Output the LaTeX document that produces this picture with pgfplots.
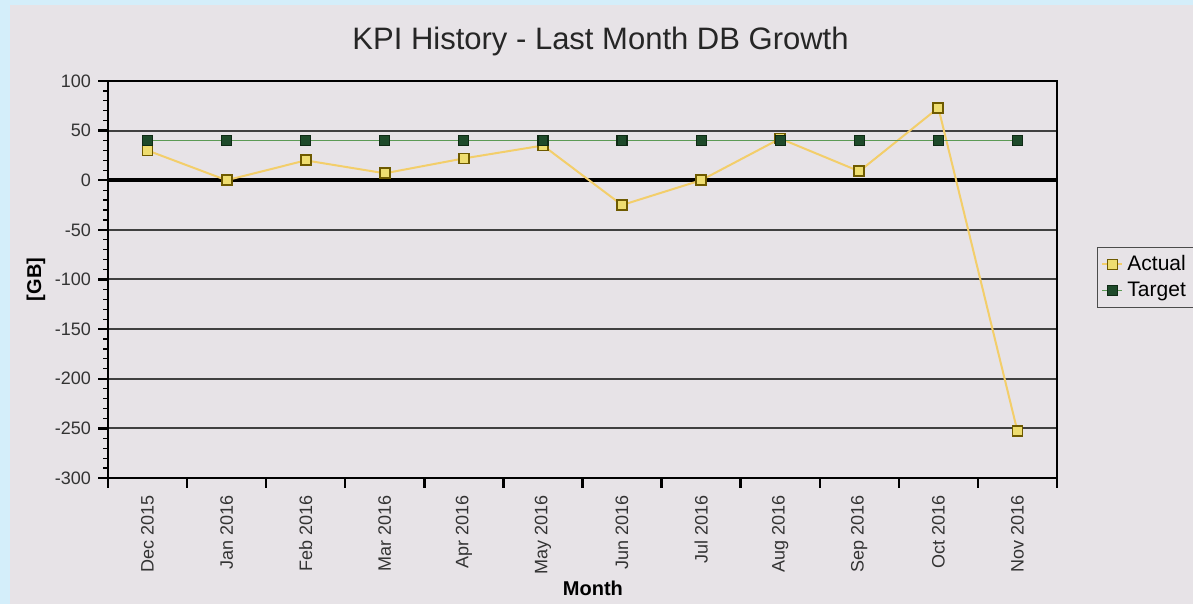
\documentclass[border=0pt]{standalone}
\usepackage{fontspec}
\setmainfont{Liberation Sans}
\usepackage{pgfplots}
\pgfplotsset{compat=1.18}

\definecolor{bgblue}{HTML}{D4EEFA}
\definecolor{panel}{HTML}{E7E3E7}
\definecolor{actline}{HTML}{F3CE6A}
\definecolor{actedge}{HTML}{6E5A00}
\definecolor{actfill}{HTML}{EEDD70}
\definecolor{tgtline}{HTML}{5C9A55}
\definecolor{tgtfill}{HTML}{1E4A2A}
\definecolor{tgtedge}{HTML}{0F2A15}
\definecolor{txt}{HTML}{333333}

\begin{document}
\begin{tikzpicture}
\useasboundingbox (0,0) rectangle (596.5pt,302pt);
\fill[bgblue] (0,0) rectangle (596.5pt,302pt);
\fill[panel] (5pt,0) rectangle (596.5pt,299.5pt);
\begin{axis}[
    at={(54pt,63pt)}, anchor=south west,
    scale only axis, width=474.5pt, height=198.5pt,
    xmin=-0.5, xmax=11.5, ymin=-300, ymax=100,
    xtick={-0.5,0.5,...,11.5}, xticklabels={},
    extra x ticks={0,...,11},
    extra x tick labels={Dec 2015,Jan 2016,Feb 2016,Mar 2016,Apr 2016,May 2016,Jun 2016,Jul 2016,Aug 2016,Sep 2016,Oct 2016,Nov 2016},
    extra x tick style={tick style={draw=none}},
    xticklabel style={rotate=90, anchor=east, font=\fontsize{9}{10}\selectfont, text=txt},
    ytick={-300,-250,...,100}, minor y tick num=4,
    yticklabel style={font=\fontsize{9}{10}\selectfont, text=txt},
    xtick pos=bottom, ytick pos=left,
    /pgf/number format/assume math mode=true,
    tick align=outside, major tick length=5pt, minor tick length=2.5pt,
    tick style={black, line width=1.2pt},
    minor tick style={line width=0.6pt},
    axis line style={black, line width=1.1pt},
    ymajorgrids, grid style={black!75, line width=1pt},
    axis background/.style={fill=panel},
    title={KPI History - Last Month DB Growth},
    title style={at={(axis description cs:0.519,1.048)}, anchor=base, font=\fontsize{15.5}{18}\selectfont, text=black!85},
    xlabel={Month},
    xlabel style={at={(axis description cs:0.511,-0.277)}, anchor=center, font=\bfseries\fontsize{10}{12}\selectfont},
    ylabel={[GB]},
    ylabel style={at={(axis description cs:-0.076,0.5)}, anchor=center, font=\bfseries\fontsize{10}{12}\selectfont},
    legend style={at={(axis description cs:1.0422,0.582)}, anchor=north west,
        draw=black!70, fill=panel, font=\fontsize{10.5}{12}\selectfont,
        row sep=0pt, inner sep=2pt},
    legend cell align=left,
    legend image code/.code={\draw[mark repeat=2,mark phase=2,#1] plot coordinates {(0pt,0pt) (5pt,0pt) (10pt,0pt)};},
]
\addplot[black, line width=2pt, forget plot] coordinates {(-0.5,0) (11.5,0)};
\addplot[actline, line width=1pt, mark=square*, mark size=2.5pt,
    mark options={draw=actedge, fill=actfill, line width=0.9pt}] coordinates {
    (0,30) (1,0) (2,20) (3,7) (4,22) (5,35) (6,-25) (7,0) (8,42) (9,9) (10,73) (11,-253)
};
\addplot[tgtline, line width=0.6pt, mark=square*, mark size=2.5pt,
    mark options={draw=tgtedge, fill=tgtfill, line width=0.6pt}] coordinates {
    (0,40) (1,40) (2,40) (3,40) (4,40) (5,40) (6,40) (7,40) (8,40) (9,40) (10,40) (11,40)
};
\legend{Actual, Target}
\end{axis}
\end{tikzpicture}
\end{document}
